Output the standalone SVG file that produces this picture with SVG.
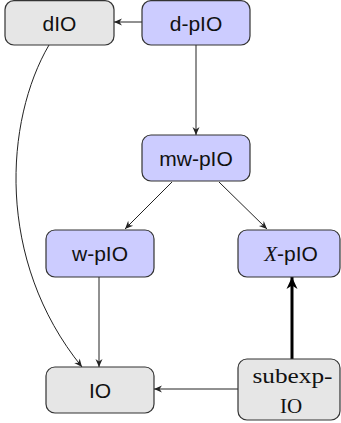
<svg xmlns="http://www.w3.org/2000/svg" width="341" height="423" viewBox="0 0 341 423">
<style>
.box{stroke:#333;stroke-width:1.2}
.blue{fill:#ccccff}
.gray{fill:#e6e6e6}
.lbl{font-family:"Liberation Sans",Arial,sans-serif;font-size:21px;fill:#111;text-anchor:middle}
.ser{font-family:"Liberation Serif","Times New Roman",serif;font-size:21px;fill:#111;text-anchor:middle}
.edge{fill:none;stroke:#222;stroke-width:1}
.thick{fill:none;stroke:#000;stroke-width:3}
</style>
<defs>
<marker id="a" markerUnits="userSpaceOnUse" viewBox="-10 -5 12 10" markerWidth="12" markerHeight="10" refX="0" refY="0" orient="auto">
<path d="M0,0 L-8,-3.5 L-5.5,0 L-8,3.5 Z" fill="#222"/>
</marker>
<marker id="b" markerUnits="userSpaceOnUse" viewBox="-14 -7 16 14" markerWidth="16" markerHeight="14" refX="0" refY="0" orient="auto">
<path d="M0,0 L-12,-5.5 L-8.5,0 L-12,5.5 Z" fill="#000"/>
</marker>
</defs>
<g id="connectors">
<path class="edge" d="M142,22 L114,22" marker-end="url(#a)"/>
<path class="edge" d="M196,45 L196,135" marker-end="url(#a)"/>
<path class="edge" d="M172,182 L125,229" marker-end="url(#a)"/>
<path class="edge" d="M219,182 L267,229" marker-end="url(#a)"/>
<path class="edge" d="M99,277 L99,367" marker-end="url(#a)"/>
<path class="edge" d="M238,389 L154,389" marker-end="url(#a)"/>
<path class="thick" d="M292,359 L292,277" marker-end="url(#b)"/>
<path class="edge" d="M49,45 C5,120 -5,260 82,367" marker-end="url(#a)"/>
</g>
<g id="dIO">
<rect class="box gray" x="5" y="0.6" width="109" height="44.4" rx="9"/>
<text class="lbl" x="59.5" y="31">dIO</text>
</g>
<g id="d-pIO">
<rect class="box blue" x="142" y="0.6" width="108" height="44.4" rx="9"/>
<text class="lbl" x="196" y="31">d-pIO</text>
</g>
<g id="mw-pIO">
<rect class="box blue" x="142" y="135" width="108" height="46" rx="9"/>
<text class="lbl" x="196" y="166">mw-pIO</text>
</g>
<g id="w-pIO">
<rect class="box blue" x="46" y="230" width="108" height="47" rx="9"/>
<text class="lbl" x="100" y="261">w-pIO</text>
</g>
<g id="X-pIO">
<rect class="box blue" x="238" y="230" width="102" height="47" rx="9"/>
<text class="lbl" x="291" y="261"><tspan font-family="Liberation Serif,serif" font-style="italic">X</tspan>-pIO</text>
</g>
<g id="IO">
<rect class="box gray" x="46" y="367" width="108" height="46" rx="9"/>
<text class="lbl" x="100" y="398">IO</text>
</g>
<g id="subexp-IO">
<rect class="box gray" x="238" y="359" width="102" height="61" rx="9"/>
<text class="ser" x="292.5" y="383" textLength="80" lengthAdjust="spacingAndGlyphs">subexp-</text>
<text class="ser" x="291" y="413">IO</text>
</g>
</svg>
